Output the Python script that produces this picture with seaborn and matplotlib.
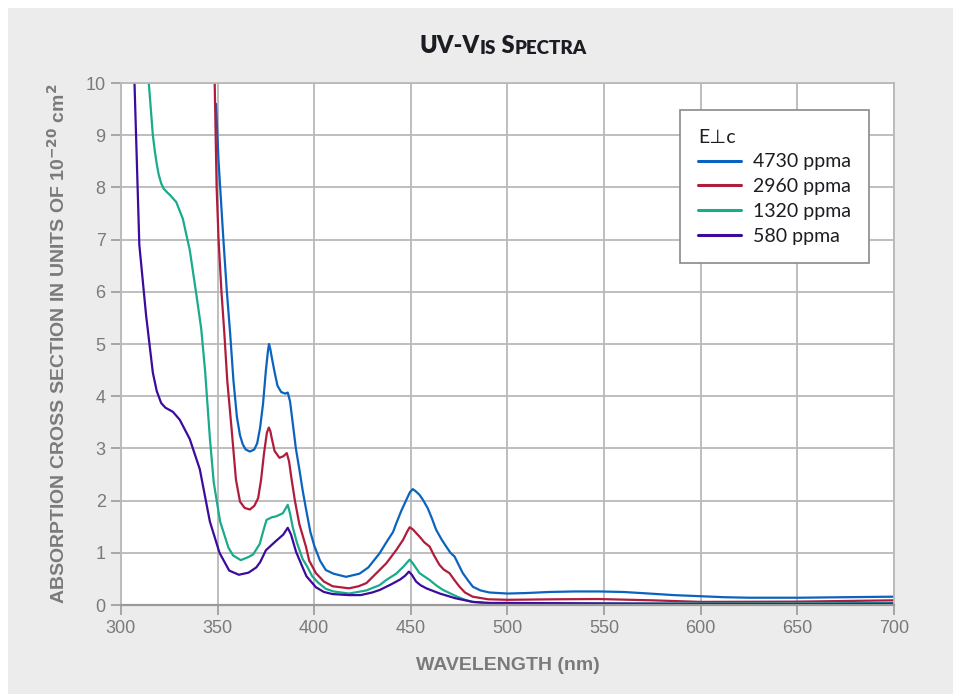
"""
UV-Vis absorption spectra (E perpendicular to c) for four concentrations.
Saves the figure as out.png.
"""

import matplotlib
matplotlib.use("Agg")
import matplotlib.pyplot as plt
from matplotlib.patches import Rectangle
import pandas as pd
import seaborn as sns

labels = ["4730 ppma", "2960 ppma", "1320 ppma", "580 ppma"]
colors = ["#0b63c0", "#b01c3c", "#1aaa8c", "#3b0b9c"]

# values (wavelength in nm, cross section in 1e-20 cm2)
wl_4730 = [349.2, 350.5, 351.5, 353, 354.8, 356.5, 358.2, 360, 361.6, 363, 364.5, 366.7, 369,
           370.5, 372, 373.5, 375, 376, 376.6, 377.3, 378, 379.5, 381, 382.9, 385, 386.3, 387.5,
           388.9, 390.5, 392.3, 394, 395.7, 398, 400, 403, 406, 410, 416.5, 423.4, 428, 433.8,
           437.3, 440.8, 442.4, 445, 447.6, 449.5, 451, 452.5, 454.5, 456.5, 458.8, 461, 463.1,
           466, 468.3, 470.5, 472.6, 475, 476.9, 480, 482.1, 486, 490.7, 500, 510, 521.6, 535,
           547.4, 560, 573.3, 586, 599.1, 612, 625, 650.9, 675, 700]
abs_4730 = [9.6, 8.5, 7.9, 7.0, 6.0, 5.2, 4.3, 3.6, 3.25, 3.08, 2.98, 2.94, 2.98,
            3.1, 3.4, 3.85, 4.5, 4.85, 5.0, 4.9, 4.75, 4.46, 4.2, 4.08, 4.05, 4.07, 3.9,
            3.48, 3.0, 2.6, 2.2, 1.85, 1.4, 1.14, 0.85, 0.67, 0.6, 0.54, 0.6, 0.72, 0.99,
            1.2, 1.4, 1.56, 1.8, 2.01, 2.16, 2.22, 2.18, 2.11, 2.0, 1.85, 1.65, 1.44,
            1.25, 1.12, 1.0, 0.93, 0.75, 0.61, 0.45, 0.35, 0.28, 0.24, 0.22, 0.23, 0.25, 0.26,
            0.26, 0.25, 0.22, 0.19, 0.17, 0.15, 0.14, 0.14, 0.15, 0.16]

wl_2960 = [348.5, 349.5, 350.5, 352, 353.5, 355, 357.3, 359.5, 361.6, 364, 366.7, 369, 371,
           372.5, 374, 375.5, 376.5, 377.3, 378, 379.5, 382, 384, 385.8, 387, 388, 390, 392.3,
           395.7, 397.4, 400.9, 405, 409.5, 418, 423, 427, 433.8, 437.3, 442.4, 446, 448,
           449.4, 451, 454.5, 457, 459.7, 462, 464.8, 467, 470, 472.5, 475.2, 478, 482, 490,
           500, 525, 547, 575, 600, 650, 700]
abs_2960 = [10.0, 8.0, 7.0, 6.0, 5.2, 4.3, 3.35, 2.4, 1.98, 1.86, 1.83, 1.9, 2.05,
            2.4, 2.9, 3.3, 3.4, 3.33, 3.2, 2.95, 2.82, 2.85, 2.91, 2.75, 2.48, 2.0, 1.55,
            1.12, 0.85, 0.61, 0.45, 0.36, 0.32, 0.36, 0.42, 0.67, 0.8, 1.05, 1.25, 1.4,
            1.49, 1.45, 1.31, 1.2, 1.12, 0.95, 0.77, 0.68, 0.61, 0.48, 0.35, 0.24, 0.16, 0.11,
            0.1, 0.11, 0.115, 0.09, 0.06, 0.065, 0.09]

wl_1320 = [314.4, 316.5, 317.5, 318.5, 319.5, 320.8, 322, 323.5, 325.2, 328.6, 332, 335.6,
           339, 341.5, 343.5, 346, 348, 351.3, 355.6, 358, 362, 366, 368.4, 371.8, 373.5,
           375.3, 378, 380.4, 383.8, 386.3, 387.5, 388.9, 391, 394, 396, 399, 402, 406, 410,
           418, 427, 433.8, 437.3, 442.4, 446, 449.4, 451, 454.5, 459.7, 463, 466.6, 473.4,
           478, 482, 490, 500, 550, 600, 650, 700]
abs_1320 = [10.0, 9.0, 8.7, 8.45, 8.25, 8.08, 7.98, 7.92, 7.86, 7.72, 7.4, 6.8,
            5.95, 5.3, 4.5, 3.2, 2.35, 1.6, 1.1, 0.95, 0.86, 0.92, 0.97, 1.17, 1.4,
            1.63, 1.68, 1.7, 1.76, 1.92, 1.75, 1.49, 1.2, 0.88, 0.76, 0.55, 0.43, 0.31, 0.26,
            0.22, 0.28, 0.38, 0.48, 0.6, 0.73, 0.87, 0.8, 0.61, 0.48, 0.38, 0.29, 0.17,
            0.1, 0.06, 0.03, 0.03, 0.03, 0.03, 0.03, 0.04]

wl_580 = [307, 309.5, 313, 316.5, 318.5, 320.8, 323, 326.9, 330.4, 335.6, 340.8, 346, 351,
          356, 361, 366, 370, 372, 375, 380, 384, 386.3, 388, 390.6, 394, 396, 400.9, 405,
          409.5, 418, 424, 430, 434, 440, 444.5, 447, 449, 450.5, 452.7, 455, 458, 465, 473,
          482, 491, 500, 550, 600, 650, 700]
abs_580 = [10.0, 6.9, 5.55, 4.45, 4.1, 3.87, 3.78, 3.7, 3.55, 3.18, 2.6, 1.6, 1.0,
           0.66, 0.58, 0.62, 0.72, 0.82, 1.05, 1.22, 1.35, 1.48, 1.35, 1.02, 0.72, 0.55, 0.34, 0.25,
           0.21, 0.19, 0.19, 0.24, 0.29, 0.4, 0.49, 0.56, 0.64, 0.58, 0.45, 0.38, 0.32, 0.22, 0.13,
           0.06, 0.04, 0.04, 0.03, 0.02, 0.02, 0.025]

x_ticks = [300, 350, 400, 450, 500, 550, 600, 650, 700]
y_ticks = [0, 1, 2, 3, 4, 5, 6, 7, 8, 9, 10]

LABEL_FONT = ["Liberation Sans", "DejaVu Sans"]
TEXT_FONT = ["Lato", "DejaVu Sans"]


def build_frame():
    """Puts the four spectra into one long table for seaborn."""
    parts = []
    for lab, wl, ab in zip(labels, [wl_4730, wl_2960, wl_1320, wl_580],
                           [abs_4730, abs_2960, abs_1320, abs_580]):
        parts.append(pd.DataFrame({"wavelength": wl, "absorption": ab, "sample": lab}))
    return pd.concat(parts, ignore_index=True)


def small_caps_title(fig, ax, x, y):
    """Draws 'UV-Vis Spectra' in faux small caps by chaining text pieces."""
    pieces = [("UV-V", 17), ("IS", 13.5), (" S", 17), ("PECTRA", 13.5)]
    last = None
    for s, size in pieces:
        kw = dict(fontsize=size, fontweight="heavy", color="#1b1d22", family=TEXT_FONT)
        if last is None:
            last = fig.text(x, y, s, ha="left", va="bottom", **kw)
        else:
            last = ax.annotate(s, xy=(1, 0), xycoords=last, va="bottom",
                               annotation_clip=False, **kw)


def plot_spectra(df):
    sns.set_theme(style="whitegrid")
    fig, ax = plt.subplots(figsize=(9.54, 6.94), dpi=100)
    fig.patch.set_facecolor("white")
    fig.patches.append(Rectangle((8 / 954, 0), 1, 1 - 8 / 694, transform=fig.transFigure,
                                 facecolor="#ececec", edgecolor="none", zorder=-10))
    fig.subplots_adjust(left=0.1268, right=0.9371, bottom=0.1282, top=0.8804)
    ax.set_facecolor("white")

    sns.lineplot(data=df, x="wavelength", y="absorption", hue="sample", hue_order=labels,
                 palette=dict(zip(labels, colors)), estimator=None, sort=False,
                 linewidth=1.6, ax=ax)
    for line in ax.lines:
        line.set_solid_joinstyle("round")

    ax.set_xlim(300, 700)
    ax.set_ylim(0, 10)
    ax.set_xticks(x_ticks)
    ax.set_yticks(y_ticks)
    ax.grid(True, color="#b9b9b9", linewidth=1.3)
    ax.set_axisbelow(True)
    for side in ["left", "top", "right"]:
        ax.spines[side].set_color("#b9b9b9")
        ax.spines[side].set_linewidth(1.3)
    ax.spines["bottom"].set_color("#9a9a9a")
    ax.spines["bottom"].set_linewidth(1.6)
    ax.tick_params(axis="both", direction="out", length=7, width=1.2, color="#9a9a9a",
                   labelcolor="#7a7a7a", labelsize=13, pad=4, left=True, bottom=True)
    for t in ax.get_xticklabels() + ax.get_yticklabels():
        t.set_family(LABEL_FONT)

    ax.set_xlabel("WAVELENGTH (nm)", fontsize=14, fontweight="bold", color="#7a7a7a",
                  family=LABEL_FONT, labelpad=14)
    ax.set_ylabel(r"ABSORPTION CROSS SECTION IN UNITS OF 10$^{\mathbf{-20}}$ cm$^{\mathbf{2}}$",
                  fontsize=14, fontweight="bold", color="#7a7a7a", family=LABEL_FONT,
                  labelpad=12)

    handles, _ = ax.get_legend_handles_labels()
    for h in handles:
        h.set_linewidth(2.2)
    leg = ax.legend(handles, labels, title="E\u22a5c", loc="upper right",
                    bbox_to_anchor=(0.9677, 0.948), borderaxespad=0, fancybox=False,
                    framealpha=1, edgecolor="#8a8a8a", title_fontsize=14,
                    alignment="left", handlelength=2.2, handletextpad=0.6,
                    labelspacing=0.4, borderpad=0.95,
                    prop={"family": TEXT_FONT, "size": 14})
    leg.get_frame().set_linewidth(1.2)
    leg.get_title().set_family(TEXT_FONT)
    for t in leg.get_texts() + [leg.get_title()]:
        t.set_color("#1b1d22")

    small_caps_title(fig, ax, 0.440, 0.918)
    fig.savefig("out.png", dpi=100, facecolor=fig.get_facecolor())


def main():
    df = build_frame()
    plot_spectra(df)


if __name__ == "__main__":
    main()
